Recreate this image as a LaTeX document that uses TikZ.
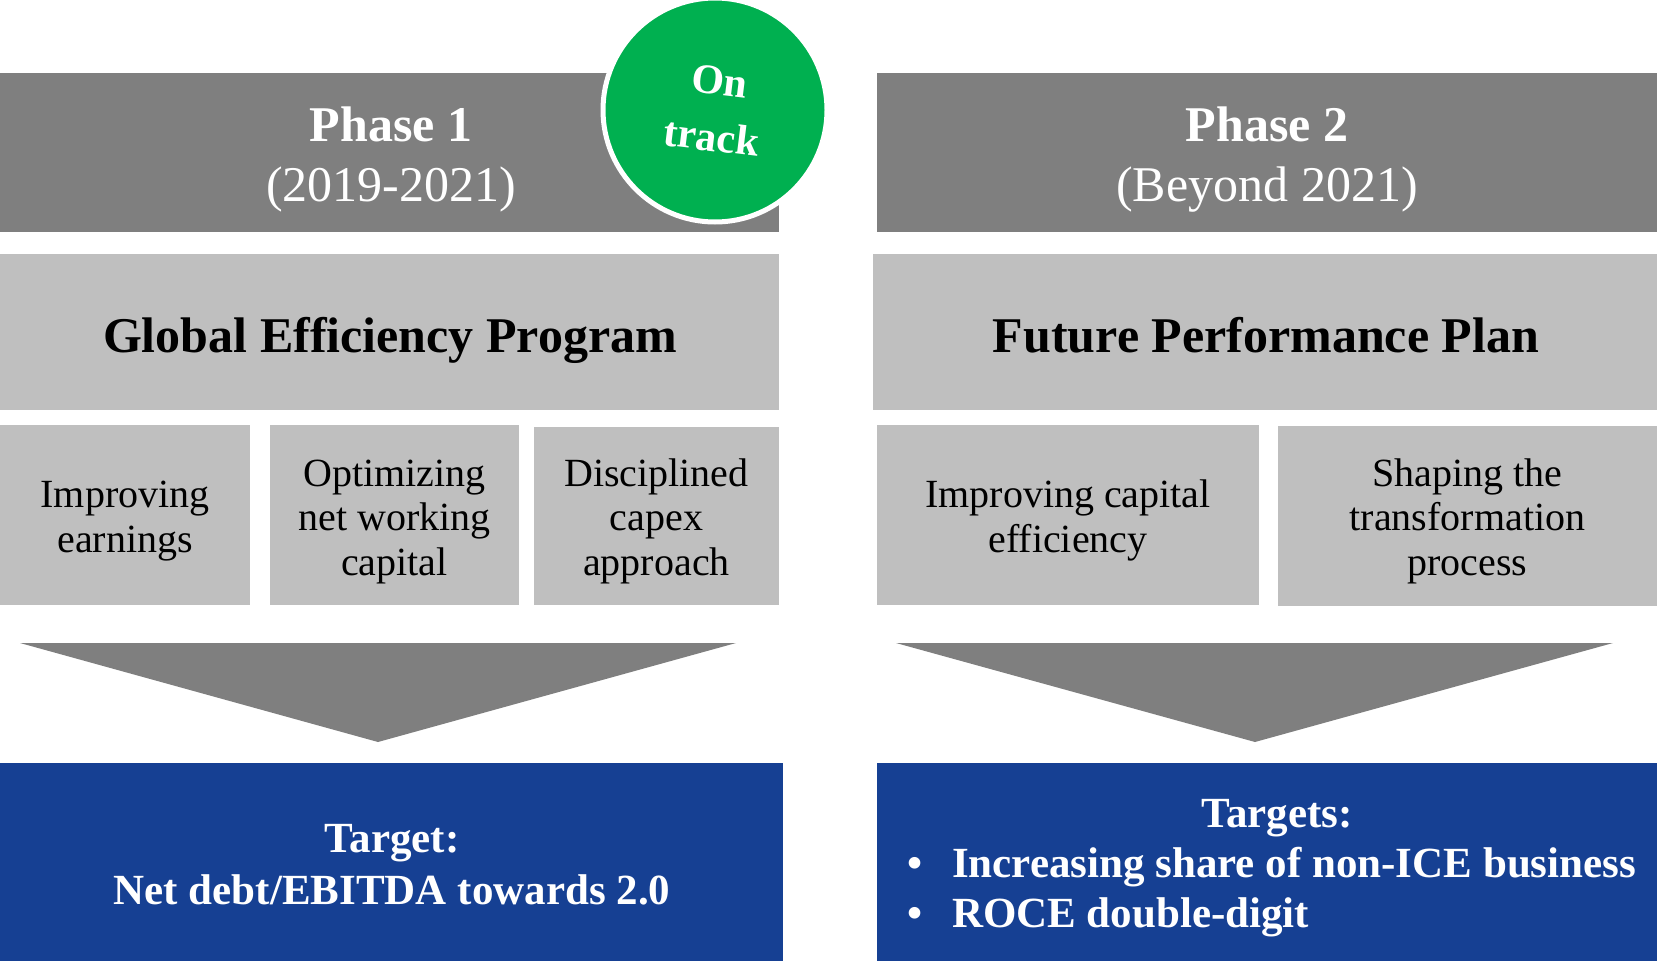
\documentclass[tikz,border=0pt]{standalone}
\usepackage{fontspec}
\setmainfont{Liberation Serif}
\definecolor{dgrey}{HTML}{7F7F7F}
\definecolor{lgrey}{HTML}{BFBFBF}
\definecolor{tblue}{HTML}{164093}
\definecolor{ggreen}{HTML}{00B050}
\begin{document}
\begin{tikzpicture}[x=1pt,y=-1pt,
  box/.style={rectangle, inner sep=0pt, outer sep=0pt, draw=none},
  phasebox/.style={box, fill=dgrey},
  progbox/.style={box, fill=lgrey},
  subbox/.style={box, fill=lgrey},
  tgtbox/.style={box, fill=tblue},
  chevron/.style={fill=dgrey, draw=none},
  txt/.style={inner sep=0pt, outer sep=0pt, anchor=base},
  phasetitle/.style={txt, text=white, font=\fontsize{50}{60}\selectfont\bfseries},
  phasesub/.style={txt, text=white, font=\fontsize{50}{60}\selectfont},
  progtitle/.style={txt, text=black, font=\fontsize{50}{60}\selectfont\bfseries},
  subtxt/.style={txt, text=black, font=\fontsize{40}{44}\selectfont},
  tgttxt/.style={txt, text=white, font=\fontsize{43}{50}\selectfont\bfseries},
  badge/.style={circle, fill=ggreen, draw=white, line width=5pt, minimum size=224pt, inner sep=0pt},
  badgetxt/.style={inner sep=0pt, text=white, anchor=base, rotate=-7, font=\fontsize{42}{50}\selectfont\bfseries}
]
\useasboundingbox (0,0) rectangle (1657,961);

% Phase header boxes
\node[phasebox, minimum width=779pt, minimum height=159pt] (p1) at (389.5,152.5) {};
\node[phasebox, minimum width=780pt, minimum height=159pt] (p2) at (1267,152.5) {};
\node[phasetitle] (p1t) at (391,141) {Phase 1};
\node[phasesub] (p1s) at (391,201) {(2019-2021)};
\node[phasetitle] (p2t) at (1267,141) {Phase 2};
\node[phasesub] (p2s) at (1267,201) {(Beyond 2021)};

% On track badge
\node[badge] (ontrack) at (715,110) {};
\node[badgetxt] (ontrack1) at (718,95) {On};
\node[badgetxt] (ontrack2) at (710,151) {track};

% Program boxes
\node[progbox, minimum width=779pt, minimum height=156pt] (gep) at (389.5,332) {};
\node[progbox, minimum width=784pt, minimum height=156pt] (fpp) at (1265,332) {};
\node[progtitle] (gept) at (390,352) {Global Efficiency Program};
\node[progtitle] (fppt) at (1266,352) {Future Performance Plan};

% Sub boxes
\node[subbox, minimum width=250pt, minimum height=180pt] (s1) at (125,515) {};
\node[subbox, minimum width=249pt, minimum height=180pt] (s2) at (394.5,515) {};
\node[subbox, minimum width=245pt, minimum height=178pt] (s3) at (656.5,516) {};
\node[subbox, minimum width=382pt, minimum height=180pt] (s4) at (1068,515) {};
\node[subbox, minimum width=379pt, minimum height=180pt] (s5) at (1467.5,516) {};

\node[subtxt] (s1a) at (125,507) {Improving};
\node[subtxt] (s1b) at (125,552) {earnings};
\node[subtxt] (s2a) at (394.5,486) {Optimizing};
\node[subtxt] (s2b) at (394.5,530.5) {net working};
\node[subtxt] (s2c) at (394.5,575) {capital};
\node[subtxt] (s3a) at (656.5,486) {Disciplined};
\node[subtxt] (s3b) at (656.5,530.5) {capex};
\node[subtxt] (s3c) at (656.5,575) {approach};
\node[subtxt] (s4a) at (1068,507) {Improving capital};
\node[subtxt] (s4b) at (1068,552) {efficiency};
\node[subtxt] (s5a) at (1467.5,486) {Shaping the};
\node[subtxt] (s5b) at (1467.5,530.5) {transformation};
\node[subtxt] (s5c) at (1467.5,575) {process};

% Chevrons
\coordinate (c1l) at (20,643);
\coordinate (c1r) at (736,643);
\coordinate (c1t) at (378,742);
\coordinate (c2l) at (896,643);
\coordinate (c2r) at (1613,643);
\coordinate (c2t) at (1255,742);
\fill[chevron] (c1l) -- (c1r) -- (c1t) -- cycle;
\fill[chevron] (c2l) -- (c2r) -- (c2t) -- cycle;

% Target boxes
\node[tgtbox, minimum width=783pt, minimum height=198pt] (t1) at (391.5,862) {};
\node[tgtbox, minimum width=780pt, minimum height=198pt] (t2) at (1267,862) {};
\node[tgttxt] (t1a) at (392,852.5) {Target:};
\node[tgttxt] (t1b) at (392,904.5) {Net debt/EBITDA towards 2.0};
\node[tgttxt] (t2a) at (1277,827.5) {Targets:};
\node[tgttxt] (t2b1) at (915,877.5) {•};
\node[tgttxt, anchor=base west] (t2b) at (952,877.5) {Increasing share of non-ICE business};
\node[tgttxt] (t2c1) at (915,927.5) {•};
\node[tgttxt, anchor=base west] (t2c) at (952,927.5) {ROCE double-digit};
\end{tikzpicture}
\end{document}
